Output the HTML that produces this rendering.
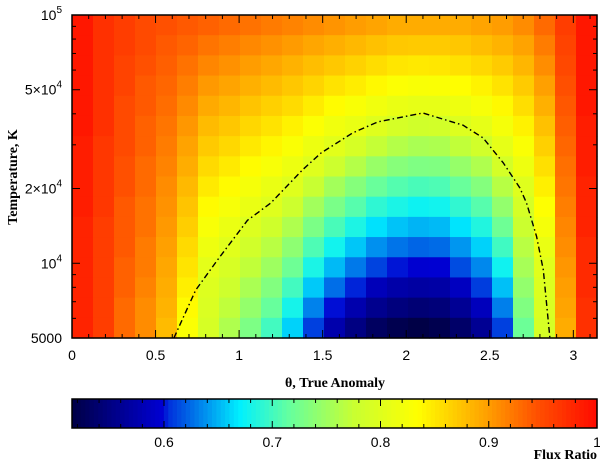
<!DOCTYPE html>
<html><head><meta charset="utf-8"><style>
html,body{margin:0;padding:0;background:#fff;width:600px;height:463px;overflow:hidden}
svg text{font-family:"Liberation Sans",sans-serif;fill:#000}
.ttl{font-family:"Liberation Serif",serif;font-weight:bold;font-size:14px}
</style></head><body>
<svg id="chart" width="600" height="463" viewBox="0 0 600 463" xmlns="http://www.w3.org/2000/svg">
<g id="heat"></g>
<g id="contour"></g>
<rect x="72" y="15" width="525" height="323" fill="none" stroke="#000" stroke-width="1.5"/>
<g id="axes"></g>
<g id="cbar"></g>
<rect x="72" y="399" width="525" height="29" fill="none" stroke="#000" stroke-width="1.5"/>
<text class="ttl" x="335" y="387" text-anchor="middle">θ, True Anomaly</text>
<text class="ttl" transform="translate(17,177) rotate(-90)" text-anchor="middle">Temperature, K</text>
<text class="ttl" x="597" y="459" text-anchor="end">Flux Ratio</text>
</svg>
<script>
// ---- data ----
const thetaMax = Math.PI;
const logTMin = Math.log10(5000), logTMax = 5;
// flux ratio per theta column (25 columns, 0..pi), each listing 16 rows from T=1e5 (top) down to T=5000
const fluxCol00 = [.99,.99,.99,.99,.99,.99,.985,.985,.985,.985,.98,.98,.98,.98,.98,.98];
const fluxCol01 = [.97,.97,.97,.97,.97,.97,.965,.965,.965,.965,.96,.96,.96,.96,.96,.96];
const fluxCol02 = [.96,.96,.955,.955,.95,.95,.95,.945,.945,.94,.94,.94,.935,.935,.93,.93];
const fluxCol03 = [.95,.95,.945,.94,.94,.935,.935,.93,.93,.925,.925,.92,.92,.915,.91,.91];
const fluxCol04 = [.945,.94,.936,.932,.928,.923,.919,.915,.91,.906,.902,.898,.893,.889,.885,.88];
const fluxCol05 = [.94,.933,.925,.918,.911,.903,.896,.889,.881,.874,.867,.859,.852,.845,.837,.83];
const fluxCol06 = [.935,.924,.913,.902,.891,.88,.87,.859,.848,.837,.826,.816,.805,.798,.794,.79];
const fluxCol07 = [.93,.918,.907,.895,.883,.872,.86,.848,.837,.825,.813,.802,.791,.781,.77,.76];
const fluxCol08 = [.925,.912,.90,.887,.874,.861,.849,.836,.823,.811,.798,.785,.771,.757,.744,.73];
const fluxCol09 = [.92,.907,.893,.88,.866,.853,.84,.826,.812,.80,.783,.766,.75,.733,.717,.70];
const fluxCol10 = [.915,.901,.886,.872,.858,.843,.829,.815,.80,.78,.76,.74,.721,.70,.68,.66];
const fluxCol11 = [.91,.894,.878,.863,.847,.831,.815,.80,.775,.752,.729,.705,.682,.657,.633,.61];
const fluxCol12 = [.905,.888,.871,.853,.836,.819,.803,.78,.753,.728,.703,.678,.652,.626,.60,.575];
const fluxCol13 = [.90,.882,.864,.846,.828,.811,.79,.763,.735,.709,.683,.656,.63,.603,.576,.55];
const fluxCol14 = [.895,.876,.857,.838,.819,.80,.773,.746,.718,.691,.665,.638,.611,.583,.557,.53];
const fluxCol15 = [.89,.871,.851,.831,.811,.789,.763,.736,.708,.682,.655,.628,.601,.573,.547,.52];
const fluxCol16 = [.89,.87,.849,.828,.808,.784,.757,.731,.703,.676,.65,.623,.597,.569,.542,.515];
const fluxCol17 = [.89,.87,.85,.829,.808,.786,.759,.732,.705,.678,.652,.625,.598,.571,.545,.52];
const fluxCol18 = [.89,.872,.854,.835,.816,.798,.771,.745,.718,.692,.666,.64,.614,.587,.561,.535];
const fluxCol19 = [.895,.878,.86,.842,.825,.807,.785,.76,.734,.709,.685,.66,.635,.609,.585,.56];
const fluxCol20 = [.90,.885,.869,.853,.838,.823,.807,.788,.765,.743,.721,.699,.677,.654,.632,.61];
const fluxCol21 = [.91,.896,.883,.869,.856,.843,.829,.816,.80,.789,.778,.766,.755,.743,.732,.72];
const fluxCol22 = [.93,.919,.909,.898,.887,.876,.866,.855,.844,.833,.823,.812,.802,.798,.794,.79];
const fluxCol23 = [.96,.955,.951,.946,.941,.937,.932,.927,.923,.918,.913,.909,.904,.899,.895,.89];
const fluxCol24 = [.99,.99,.99,.99,.99,.985,.985,.985,.98,.98,.98,.975,.975,.975,.97,.97];
const flux = [fluxCol00,fluxCol01,fluxCol02,fluxCol03,fluxCol04,fluxCol05,fluxCol06,fluxCol07,fluxCol08,fluxCol09,fluxCol10,fluxCol11,fluxCol12,fluxCol13,fluxCol14,fluxCol15,fluxCol16,fluxCol17,fluxCol18,fluxCol19,fluxCol20,fluxCol21,fluxCol22,fluxCol23,fluxCol24];
// contour line (theta, temperature)
const contourTheta = [0.61,0.74,0.87,1.05,1.19,1.38,1.49,1.68,1.83,2.10,2.34,2.46,2.58,2.68,2.72,2.78,2.82,2.86];
const contourTemp = [5000,7800,10300,14900,17500,23800,27800,33500,37100,40300,36000,32000,25400,20100,17500,12800,9400,5000];
// axis ticks
const xTickLabels = ["0","0.5","1","1.5","2","2.5","3"];
const xTickValues = [0,0.5,1,1.5,2,2.5,3];
const yTickValues = [5000,10000,20000,50000,100000];
const yTickLabels = ["5000","10<tspan dy='-7' font-size='10'>4</tspan>","2×10<tspan dy='-7' font-size='10'>4</tspan>","5×10<tspan dy='-7' font-size='10'>4</tspan>","10<tspan dy='-7' font-size='10'>5</tspan>"];
const cbarMin = 0.515, cbarMax = 1.0;
const cbarTickValues = [0.6,0.7,0.8,0.9,1.0];
const cbarTickLabels = ["0.6","0.7","0.8","0.9","1"];

// ---- scales ----
const PX0=72, PX1=597, PY0=15, PY1=338;
const xS = t => PX0 + t/thetaMax*(PX1-PX0);
const yS = T => PY1 - (Math.log10(T)-logTMin)/(logTMax-logTMin)*(PY1-PY0);
const CX0=72, CX1=597, CY0=399, CY1=428;
const cS = v => CX0 + (v-cbarMin)/(cbarMax-cbarMin)*(CX1-CX0);

const stops=[[0.515,[0,0,70]],[0.55,[0,0,130]],[0.598,[0,0,210]],[0.605,[0,50,220]],[0.64,[0,150,240]],[0.67,[0,240,255]],[0.715,[100,255,160]],[0.775,[200,255,50]],[0.834,[255,255,0]],[0.898,[255,160,0]],[0.945,[255,80,0]],[1.0,[255,10,0]]];
function cmap(v){
  if(v<=stops[0][0]) return `rgb(${stops[0][1]})`;
  for(let i=1;i<stops.length;i++){
    if(v<=stops[i][0]){const a=stops[i-1],b=stops[i],f=(v-a[0])/(b[0]-a[0]);
      const c=a[1].map((x,k)=>Math.round(x+(b[1][k]-x)*f));return `rgb(${c})`;}
  }
  return `rgb(${stops[stops.length-1][1]})`;
}
const NS="http://www.w3.org/2000/svg";
function mk(tag,attrs,parent){const e=document.createElementNS(NS,tag);for(const k in attrs)e.setAttribute(k,attrs[k]);parent.appendChild(e);return e;}

// heatmap
const heat=document.getElementById('heat');
const nC=flux.length;
flux.forEach((col,i)=>{
  const nR=col.length;
  col.forEach((v,j)=>{
    const t0=i*thetaMax/nC, t1=(i+1)*thetaMax/nC;
    const l0=logTMax-j*(logTMax-logTMin)/nR, l1=logTMax-(j+1)*(logTMax-logTMin)/nR;
    const x0=xS(t0), x1=xS(t1), y0=yS(Math.pow(10,l0)), y1=yS(Math.pow(10,l1));
    const r=mk('rect',{x:x0.toFixed(2),y:y0.toFixed(2),width:(x1-x0+0.6).toFixed(2),height:(y1-y0+0.6).toFixed(2),fill:cmap(v)},heat);
    
    
  });
});
// contour
const cg=document.getElementById('contour');
const pts=contourTheta.map((t,i)=>xS(t).toFixed(1)+','+yS(contourTemp[i]).toFixed(1)).join(' ');
const pl=mk('polyline',{points:pts,fill:'none',stroke:'#000','stroke-width':1.4,'stroke-dasharray':'6,3,1.5,3'},cg);



// axes ticks
const ax=document.getElementById('axes');
for(let k=0;k<=31;k++){
  const v=k*0.1; if(v>thetaMax) break;
  const x=xS(v), L=(k%5===0)?8:4;
  mk('line',{x1:x,x2:x,y1:PY1,y2:PY1-L,stroke:'#000','stroke-width':1},ax);
  mk('line',{x1:x,x2:x,y1:PY0,y2:PY0+L,stroke:'#000','stroke-width':1},ax);
}
xTickValues.forEach((v,i)=>{
  const t=mk('text',{x:xS(v),y:360,'text-anchor':'middle','font-size':14},ax);
  t.textContent=xTickLabels[i];
  
  
});
const minorT=[5000,6000,7000,8000,9000,10000,20000,30000,40000,50000,60000,70000,80000,90000,100000];
minorT.forEach(T=>{
  const y=yS(T), L=yTickValues.includes(T)?8:4;
  mk('line',{x1:PX0,x2:PX0+L,y1:y,y2:y,stroke:'#000','stroke-width':1},ax);
  mk('line',{x1:PX1,x2:PX1-L,y1:y,y2:y,stroke:'#000','stroke-width':1},ax);
});
yTickValues.forEach((v,i)=>{
  const t=mk('text',{x:62,y:yS(v)+5,'text-anchor':'end','font-size':14},ax);
  t.innerHTML=yTickLabels[i];
  
  
});

// colorbar
const cb=document.getElementById('cbar');
const nS=120;
for(let s=0;s<nS;s++){
  const v0=cbarMin+s*(cbarMax-cbarMin)/nS, v1=cbarMin+(s+1)*(cbarMax-cbarMin)/nS;
  mk('rect',{x:cS(v0),y:CY0,width:cS(v1)-cS(v0)+0.6,height:CY1-CY0,fill:cmap((v0+v1)/2)},cb);
}
for(let k=26;k<=50;k++){
  const v=k*0.02; if(v<cbarMin) continue;
  const x=cS(v), L=(k%5===0)?7:4;
  mk('line',{x1:x,x2:x,y1:CY1,y2:CY1-L,stroke:'#000','stroke-width':1},cb);
  mk('line',{x1:x,x2:x,y1:CY0,y2:CY0+L,stroke:'#000','stroke-width':1},cb);
}
cbarTickValues.forEach((v,i)=>{
  const t=mk('text',{x:cS(v),y:447,'text-anchor':'middle','font-size':14},cb);
  t.textContent=cbarTickLabels[i];
  
  
});
</script>
</body></html>
